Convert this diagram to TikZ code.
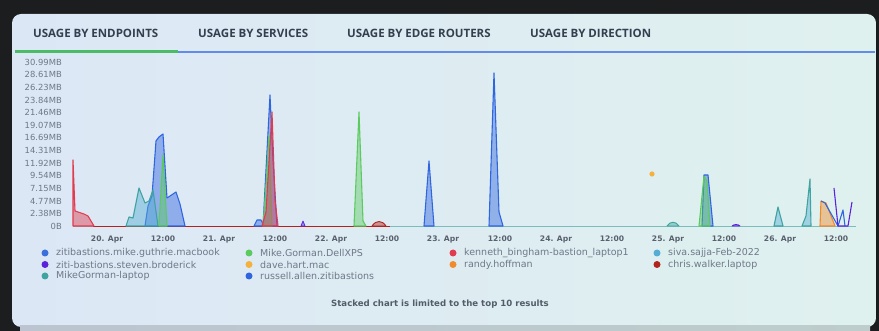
\documentclass[tikz,border=0pt]{standalone}
\usepackage{fontspec}
\setmainfont{Open Sans}
\newfontfamily\legfont{DejaVu Sans}
\definecolor{bgdark}{HTML}{1C1D1F}
\definecolor{panelL}{HTML}{DCE7F5}
\definecolor{panelR}{HTML}{DFF1EF}
\definecolor{tabtext}{HTML}{34404F}
\definecolor{axtext}{HTML}{6E7888}
\definecolor{cBlue}{HTML}{3A6FDC}
\definecolor{cGreen}{HTML}{5CCB5F}
\definecolor{cRed}{HTML}{E23A4E}
\definecolor{cSky}{HTML}{55ADD6}
\definecolor{cPurple}{HTML}{5A22DA}
\definecolor{cYellow}{HTML}{F5B13D}
\definecolor{cOrange}{HTML}{F08A2C}
\definecolor{cDarkRed}{HTML}{B3231E}
\definecolor{cTeal}{HTML}{3FA3A0}
\definecolor{cRoyal}{HTML}{2F66E0}
\begin{document}
\begin{tikzpicture}[x=1pt,y=-1pt,
  tab/.style={font=\bfseries\fontsize{11.5}{13}\selectfont, text=tabtext, inner sep=0pt, anchor=west},
  ylab/.style={font=\legfont\fontsize{8.4}{9}\selectfont, text=axtext, inner sep=0pt, anchor=east},
  xlab/.style={font=\legfont\bfseries\fontsize{7.6}{9}\selectfont, text=axtext!80!black, inner sep=0pt},
  leg/.style={font=\legfont\fontsize{9.5}{10}\selectfont, text=axtext, inner sep=0pt, anchor=west},
  dot/.style={circle, fill=#1, minimum size=7pt, inner sep=0pt},
  area/.style={draw=#1, fill=#1, fill opacity=0.45, line width=1.1pt, line join=round},
  spline/.style={draw=#1, line width=1.1pt, line join=round}]
\useasboundingbox (0,0) rectangle (879,331);
\fill[bgdark] (0,0) rectangle (879,331);
\fill[left color=panelL, right color=panelR, rounded corners=9pt] (12,14) rectangle (876,327);
\fill[left color=panelL!85!black, right color=panelR!85!black] (20,326) rectangle (870,331);
% tabs
\node[tab] (t1) at (33,33) {USAGE BY ENDPOINTS};
\node[tab] (t2) at (198,33) {USAGE BY SERVICES};
\node[tab] (t3) at (347,33) {USAGE BY EDGE ROUTERS};
\node[tab] (t4) at (530,33) {USAGE BY DIRECTION};
\fill[cRoyal!75!white] (15,51) rectangle (875,53);
\fill[cGreen!80!teal] (15,50.5) rectangle (178,53.5);
% y labels
\foreach \v [count=\i from 0] in {30.99MB,28.61MB,26.23MB,23.84MB,21.46MB,19.07MB,16.69MB,14.31MB,11.92MB,9.54MB,7.15MB,4.77MB,2.38MB,0B}
  \node[ylab] (y\i) at (62,62+12.65*\i) {\v};
% x labels
\foreach \t/\x [count=\i] in {20. Apr/107,12:00/163,21. Apr/219,12:00/275,22. Apr/331,12:00/387,23. Apr/443,12:00/500,24. Apr/556,12:00/612,25. Apr/668,12:00/724,26. Apr/780,12:00/836}
  \node[xlab] (x\i) at (\x,239) {\t};
% baseline
\draw[cTeal!70!white, line width=0.8pt] (73,226) -- (856,226);
\draw[cDarkRed, line width=0.8pt] (93,226) -- (390,226);
% series
\path[area=cRed] (73,226) -- (73,160) -- (75,211) -- (84,214) -- (88,216) -- (94,226) -- cycle;
\path[area=cRoyal] (145,226) -- (148,206) -- (152,196) -- (156,141) -- (159,137) -- (163,134) -- (167,198) -- (176,192) -- (180,204) -- (185,226) -- cycle;
\path[area=cSky, draw=cTeal] (126,226) -- (129,217) -- (133,218) -- (139,188) -- (145,203) -- (149,201) -- (153,190) -- (158,226) -- cycle;
\path[area=cGreen] (159,226) -- (163,155) -- (167,226) -- cycle;
% second group
\path[area=cRoyal] (254,226) -- (257,220) -- (261,220) -- (264,226) -- cycle;
\path[area=cRoyal] (263,226) -- (266,170) -- (270,95) -- (273,160) -- (277,226) -- cycle;
\path[area=cGreen] (263,226) -- (266,185) -- (269,135) -- (272,226) -- cycle;
\path[area=cRed] (262,226) -- (266,212) -- (272,112) -- (275,200) -- (278,226) -- cycle;
\path[area=cPurple, line width=0.8pt] (301,226) -- (303,221) -- (305,226) -- cycle;
\path[area=cGreen] (354,226) -- (359,112) -- (363,221) -- (366,226) -- cycle;
\path[area=cDarkRed, line width=0.9pt] (372,226) .. controls (376,220) and (382,220) .. (386,226) -- cycle;
\path[area=cRoyal] (424,226) -- (429,161) -- (434,226) -- cycle;
\path[area=cRoyal] (489,226) -- (494,73) -- (499,212) -- (503,226) -- cycle;
\fill[cYellow] (652,174) circle (2.6pt);
\path[area=cTeal, line width=0.9pt] (667,226) .. controls (670,221) and (676,221) .. (679,226) -- cycle;
\path[area=cRoyal] (702,226) -- (704,175) -- (708,175) -- (713,226) -- cycle;
\path[area=cGreen] (699,226) -- (704,176) -- (707,181) -- (710,226) -- cycle;
\path[area=cPurple, line width=0.8pt] (732,226) .. controls (734,224) and (738,224) .. (740,226) -- cycle;
\path[area=cSky, draw=cTeal] (774,226) -- (778,207) -- (783,226) -- cycle;
\path[area=cSky, draw=cTeal] (802,226) -- (806,216) -- (810,179) -- (811,226) -- cycle;
\path[area=cOrange] (820,226) -- (821,201) -- (826,203) -- (835,226) -- cycle;
\path[spline=cRoyal] (821,201) -- (825,203) -- (838,226) -- (843,210) -- (845,226);
\path[spline=cPurple] (834,188) -- (838,226) -- (848,226) -- (852,202);
% legend
\foreach \n/\c/\x/\y/\t in {
  l1/cBlue/45/253/zitibastions.mike.guthrie.macbook,
  l2/cGreen/249/253/Mike.Gorman.DellXPS,
  l3/cRed/453/253/kenneth\_bingham-bastion\_laptop1,
  l4/cSky/657/253/siva.sajja-Feb-2022,
  l5/cPurple/45/264.5/ziti-bastions.steven.broderick,
  l6/cYellow/249/264.5/dave.hart.mac,
  l7/cOrange/453/264.5/randy.hoffman,
  l8/cDarkRed/657/264.5/chris.walker.laptop,
  l9/cTeal/45/276/MikeGorman-laptop,
  l10/cRoyal/249/276/russell.allen.zitibastions}{
  \node[dot=\c] (\n d) at (\x,\y) {};
  \node[leg] (\n) at (\x+11,\y) {\t};
}
\node[font=\legfont\bfseries\fontsize{8.6}{9}\selectfont, text=tabtext!85!white, inner sep=0pt] (note) at (440,304) {Stacked chart is limited to the top 10 results};
\end{tikzpicture}
\end{document}
